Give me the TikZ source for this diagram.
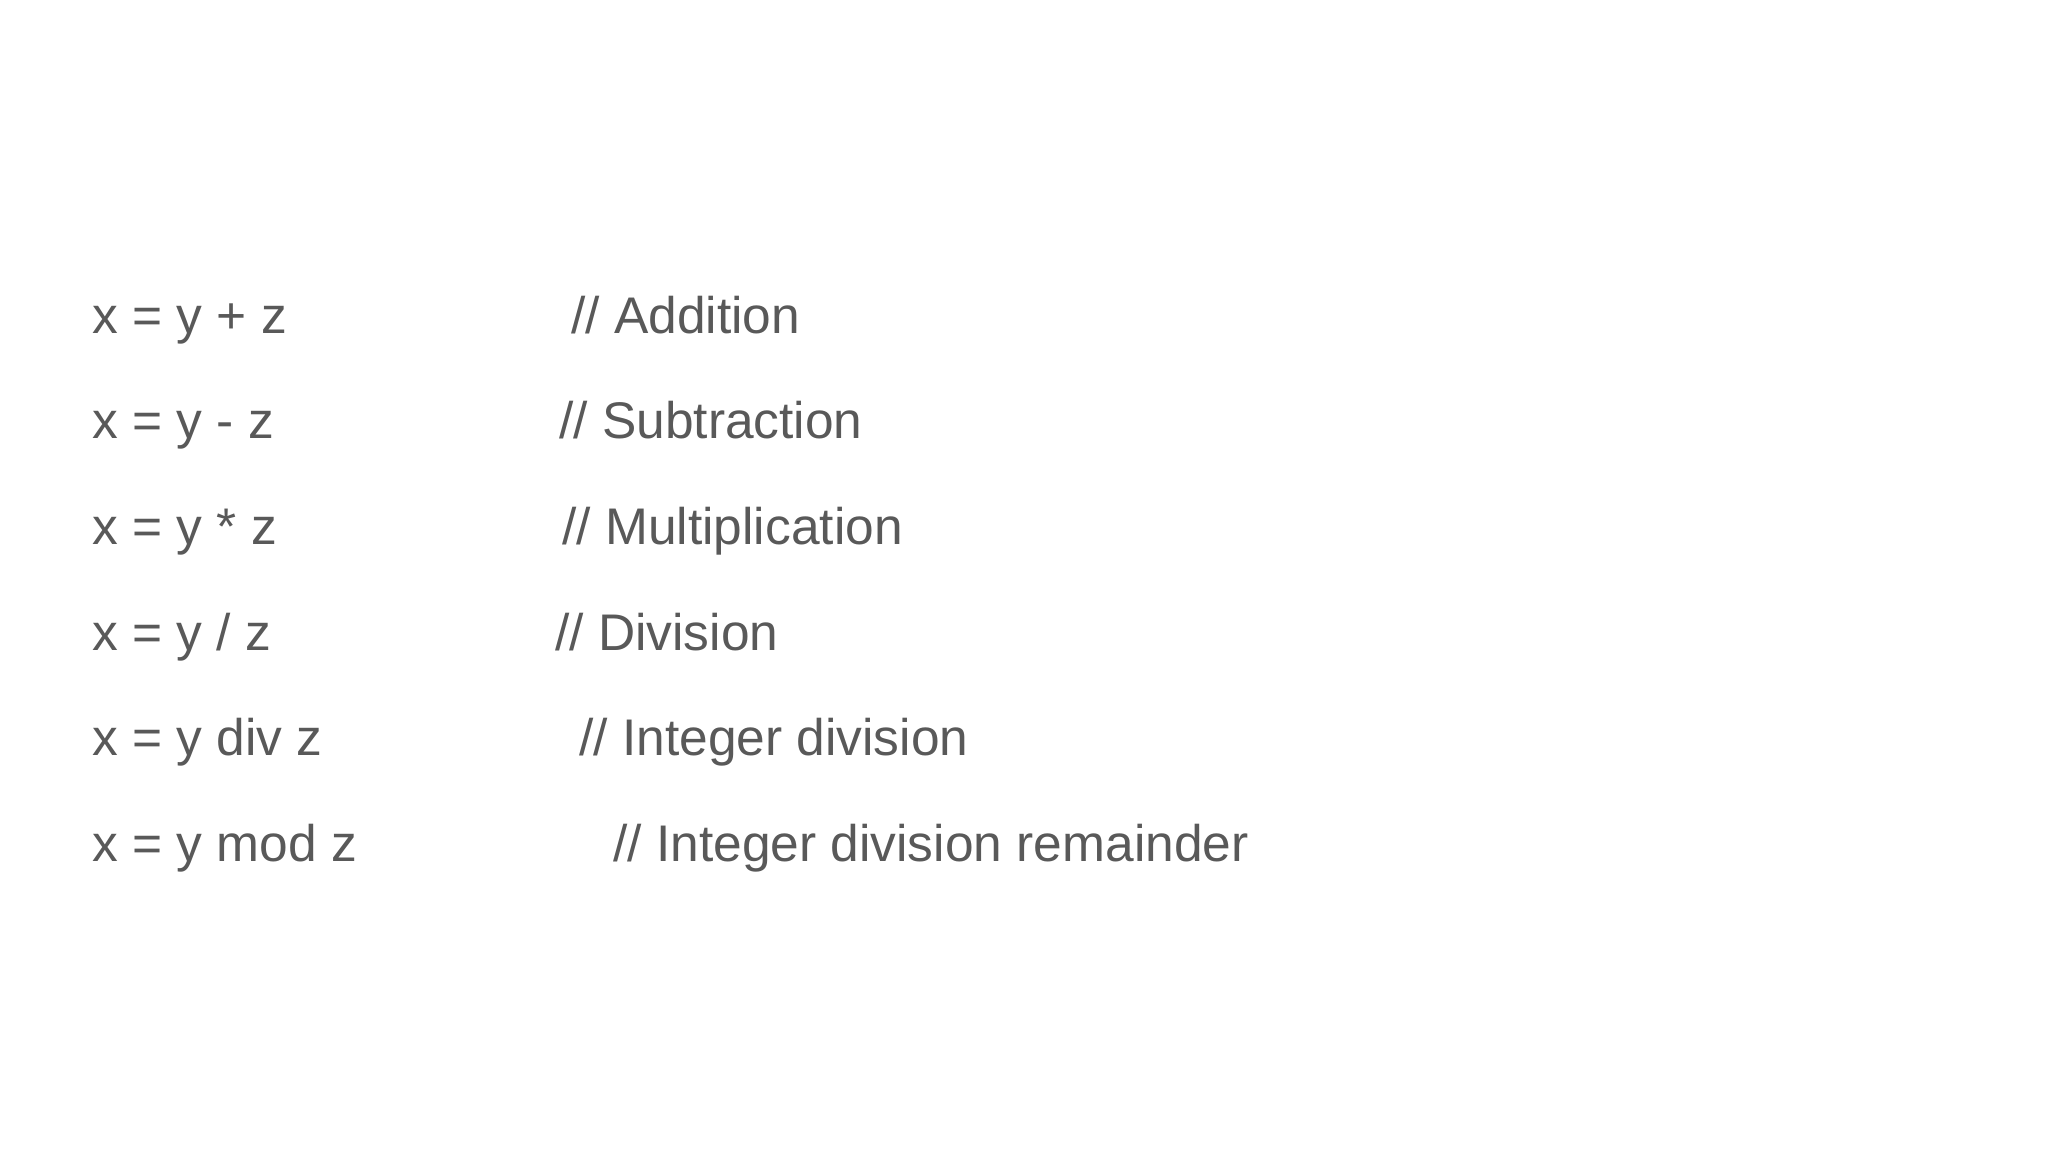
\documentclass[tikz,border=0pt]{standalone}
\usepackage{fontspec}
\setmainfont{Liberation Sans}
\definecolor{txt}{HTML}{595959}
\begin{document}
\begin{tikzpicture}[x=1pt,y=-1pt,
  line/.style={anchor=base west,inner sep=0pt,text=txt,font=\fontsize{51.5}{60}\selectfont}]
\useasboundingbox (0,0) rectangle (2048,1152);
\node[line] (a1) at (92,333) {x = y + z};
\node[line] (b1) at (571,333) {// Addition};
\node[line] (a2) at (92,438) {x = y - z};
\node[line] (b2) at (559,438) {// Subtraction};
\node[line] (a3) at (92,544) {x = y * z};
\node[line] (b3) at (562,544) {// Multiplication};
\node[line] (a4) at (92,650) {x = y / z};
\node[line] (b4) at (555,650) {// Division};
\node[line] (a5) at (92,755) {x = y div z};
\node[line] (b5) at (579,755) {// Integer division};
\node[line] (a6) at (92,861) {x = y mod z};
\node[line] (b6) at (613,861) {// Integer division remainder};
\end{tikzpicture}
\end{document}
